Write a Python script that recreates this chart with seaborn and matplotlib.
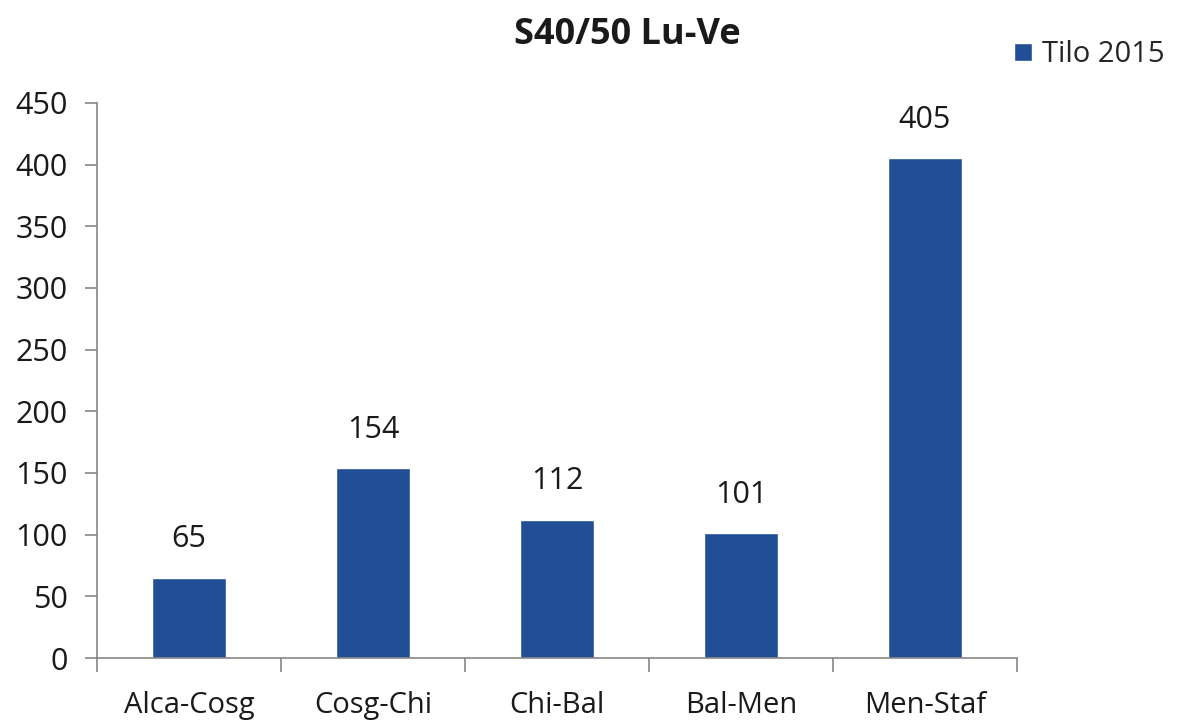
import pandas as pd
import matplotlib.pyplot as plt
import seaborn as sns
from matplotlib.patches import Patch

# Data
categories = ['Alca-Cosg', 'Cosg-Chi', 'Chi-Bal', 'Bal-Men', 'Men-Staf']
values = [65, 154, 112, 101, 405]
series_name = 'Tilo 2015'

data = pd.DataFrame({'Tratta': categories, 'Valore': values, 'Serie': series_name})

sns.set_style('white')
plt.rcParams['font.family'] = ['Open Sans', 'DejaVu Sans']

fig = plt.figure(figsize=(11.81, 7.2), dpi=100)
ax = fig.add_axes([0.0821, 0.0861, 0.779, 0.771])

bar_color = '#224E96'
txt_color = '#1a1a1a'
sns.barplot(x='Tratta', y='Valore', hue='Serie', data=data, palette=[bar_color],
            width=0.4, ax=ax, saturation=1, legend=False)

# Value labels above bars
for p, v in zip(ax.patches, values):
    ax.text(p.get_x() + p.get_width() / 2, v + 19, str(v), ha='center', va='bottom',
            fontsize=22, color=txt_color)

ax.set_ylim(0, 450)
ax.set_xlim(-0.5, len(categories) - 0.5)
ax.set_yticks(range(0, 451, 50))
ax.set_xlabel('')
ax.set_ylabel('')

# Axes styling
spine_color = '#868686'
for s in ['top', 'right']:
    ax.spines[s].set_visible(False)
for s in ['left', 'bottom']:
    ax.spines[s].set_color(spine_color)
    ax.spines[s].set_linewidth(1.2)

ax.tick_params(axis='y', left=True, length=9, width=1.2, color=spine_color,
               labelsize=22, labelcolor=txt_color, pad=12)
# x ticks sit between categories
ax.set_xticks(range(len(categories)))
ax.set_xticklabels(categories)
ax.tick_params(axis='x', bottom=False, labelsize=21, labelcolor=txt_color, pad=20)
ax.set_xticks([i - 0.5 for i in range(len(categories) + 1)], minor=True)
ax.tick_params(axis='x', which='minor', bottom=True, length=10, width=1.2, color=spine_color)

fig.text(0.531, 0.951, 'S40/50 Lu-Ve', ha='center', va='center',
         fontsize=26, fontweight='bold', color=txt_color)

fig.legend(handles=[Patch(facecolor=bar_color, label=series_name)],
           loc='center left', bbox_to_anchor=(0.859, 0.924), frameon=False,
           fontsize=21, handlelength=0.6, handleheight=0.6, handletextpad=0.35,
           borderaxespad=0, borderpad=0)

fig.savefig('out.png', dpi=100)
